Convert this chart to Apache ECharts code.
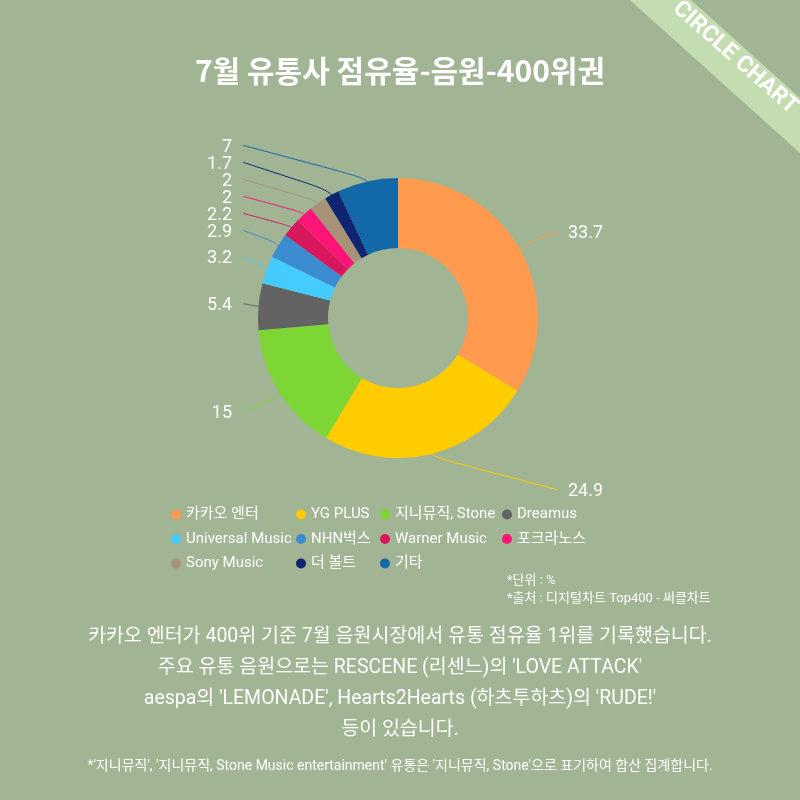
<!DOCTYPE html>
<html><head><meta charset="utf-8">
<script src="https://cdn.jsdelivr.net/npm/echarts@6/dist/echarts.min.js"></script>
<style>html,body{margin:0;padding:0;background:#A1B494}#c{width:800px;height:800px}</style>
</head><body><div id="c"></div>
<script>
const categories = ['카카오 엔터','YG PLUS','지니뮤직, Stone','Dreamus','Universal Music','NHN벅스','Warner Music','포크라노스','Sony Music','더 볼트','기타'];
const shares = [33.7, 24.9, 15, 5.4, 3.2, 2.9, 2.2, 2, 2, 1.7, 7];
const colors = ['#FF9A4F','#FFCC00','#7ED634','#636363','#44CCFF','#3C8CD2','#D8185E','#FF1478','#A8937A','#0E2672','#1369A8'];
const legendColumns = [
  ['카카오 엔터','Universal Music','Sony Music'],
  ['YG PLUS','NHN벅스','더 볼트'],
  ['지니뮤직, Stone','Warner Music','기타'],
  ['Dreamus','포크라노스']
];
const legendLefts = [166, 291, 375, 497];
const titleText = '7월 유통사 점유율-음원-400위권';
const bodyLines = [
  '카카오 엔터가 400위 기준 7월 음원시장에서 유통 점유율 1위를 기록했습니다.',
  "주요 유통 음원으로는 RESCENE (리센느)의 'LOVE ATTACK'",
  "aespa의 'LEMONADE', Hearts2Hearts (하츠투하츠)의 'RUDE!'",
  '등이 있습니다.'
];
const footnote = "*'지니뮤직', '지니뮤직, Stone Music entertainment' 유통은 '지니뮤직, Stone'으로 표기하여 합산 집계합니다.";
const notes = ['*단위 : %', '*출처 : 디지털차트 Top400 - 써클차트'];

const FONT = 'Roboto, "Noto Sans CJK KR", sans-serif';
const CX = 398, CY = 318, R_IN = 70, R_OUT = 140;
const LINE_LEN = 37, LEFT_GAP = 15, RIGHT_GAP = 20, TEXT_GAP = 10, TEXT_DROP = 2;

const chart = echarts.init(document.getElementById('c'));

const graphics = [
  {type:'polygon', shape:{points:[[630,0],[691,0],[800,98],[800,153]]}, style:{fill:'#C3DDB0'}, silent:true},
  {type:'text', x:735, y:58, rotation:-41.5*Math.PI/180, style:{text:'CIRCLE CHART', fill:'#fff', font:'bold 23px '+FONT, align:'center', verticalAlign:'middle'}},
  {type:'text', x:400, y:71, style:{text:titleText, fill:'#fff', font:'bold 30px "Noto Sans CJK KR", sans-serif', align:'center', verticalAlign:'middle'}},
  {type:'text', x:507, y:581, style:{text:notes[0], fill:'#fff', font:'13px '+FONT, verticalAlign:'middle'}},
  {type:'text', x:507, y:599, style:{text:notes[1], fill:'#fff', font:'13px '+FONT, verticalAlign:'middle'}},
  {type:'text', x:400, y:766, style:{text:footnote, fill:'#fff', font:'14px '+FONT, align:'center', verticalAlign:'middle'}}
];
bodyLines.forEach((t,i)=>graphics.push({type:'text', x:400, y:637+i*31, style:{text:t, fill:'#fff', font:'19.5px '+FONT, align:'center', verticalAlign:'middle'}}));

function layoutLabel(p){
  const pts = p.labelLinePoints;
  if (!pts) return {};
  const p0 = pts[0];
  const isLeft = p0[0] < CX;
  const ly = p.labelRect.y + p.labelRect.height / 2;
  const endX = isLeft ? CX - R_OUT - LEFT_GAP : CX + R_OUT + RIGHT_GAP;
  const p1x = p0[0] + (endX - p0[0]) * 0.5;
  return {
    x: isLeft ? endX - TEXT_GAP - 1 : endX + TEXT_GAP,
    y: ly + TEXT_DROP,
    align: isLeft ? 'right' : 'left',
    verticalAlign: 'middle',
    fontSize: 18,
    labelLinePoints: [[p0[0], p0[1]], [p1x, ly], [endX, ly]]
  };
}

chart.setOption({
  backgroundColor:'#A1B494',
  color: colors,
  legend: legendColumns.map((col,i)=>({
    orient:'vertical', left:legendLefts[i], top:502, data:col,
    icon:'circle', itemWidth:10, itemHeight:10, itemGap:9.5,
    selectedMode:false,
    textStyle:{color:'#fff', fontSize:15, fontFamily:FONT}
  })),
  series:[{
    type:'pie', center:[CX,CY], radius:[R_IN,R_OUT], startAngle:90, clockwise:true,
    avoidLabelOverlap:true,
    data: categories.map((n,i)=>({name:n, value:shares[i]})),
    label:{show:true, formatter:'{c}', color:'#fff', fontSize:15, fontFamily:FONT, alignTo:'none'},
    labelLine:{show:true, length:LINE_LEN, length2:4, smooth:1, lineStyle:{width:1}},
    labelLayout: layoutLabel,
    emphasis:{disabled:true}
  }],
  graphic: graphics
});
</script></body></html>
